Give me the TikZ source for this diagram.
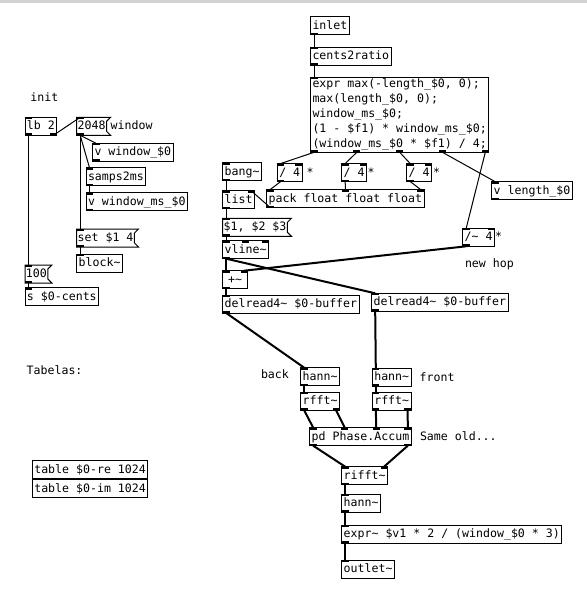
\documentclass[tikz,border=0pt]{standalone}
\usepackage{fontspec}
\usepackage{tikz}
\usetikzlibrary{calc}
\newfontfamily\pdmono{DejaVu Sans Mono}
\newcommand{\tld}{\textasciitilde}

% inlets and outlets of a box: name, number of inlets, number of outlets
\newcommand{\iolets}[3]{%
  \path (#1.north west) ++(3.5pt,0) coordinate (#1-tl)
        (#1.north east) ++(-3.5pt,0) coordinate (#1-tr)
        (#1.south west) ++(3.5pt,0) coordinate (#1-bl)
        (#1.south east) ++(-3.5pt,0) coordinate (#1-br);
  \ifnum#2>0
    \pgfmathtruncatemacro\nlast{max(#2-1,1)}%
    \foreach \k in {1,...,#2}{%
      \pgfmathsetmacro\frc{(\k-1)/\nlast}%
      \coordinate (#1-i\k) at ($(#1-tl)!\frc!(#1-tr)$);
      \fill ($(#1-i\k)+(-3.5pt,0)$) rectangle ++(7pt,-2pt);
    }%
  \fi
  \ifnum#3>0
    \pgfmathtruncatemacro\nlast{max(#3-1,1)}%
    \foreach \k in {1,...,#3}{%
      \pgfmathsetmacro\frc{(\k-1)/\nlast}%
      \coordinate (#1-o\k) at ($(#1-bl)!\frc!(#1-br)$);
      \fill ($(#1-o\k)+(-3.5pt,0)$) rectangle ++(7pt,2pt);
    }%
  \fi}

% flag of a message box
\newcommand{\msgflag}[1]{%
  \draw[line width=1pt] (#1.north west) -- ($(#1.north east)+(4pt,0)$)
    -- ($(#1.north east)+(0,-4pt)$) -- ($(#1.south east)+(0,4pt)$)
    -- ($(#1.south east)+(4pt,0)$) -- (#1.south west) -- cycle;}

\begin{document}
\begin{tikzpicture}[x=1pt, y=-1pt,
  pdtext/.style={anchor=north west, inner xsep=2pt, inner ysep=3.2pt, outer sep=0pt,
    text height=9.3pt, text depth=2.3pt, font=\pdmono\fontsize{11.58pt}{15pt}\selectfont},
  pdobj/.style={pdtext, draw, line width=1pt, fill=white, minimum width=24.9pt},
  pdmsg/.style={pdtext, inner xsep=1pt},
  pdcom/.style={pdtext},
  ctl/.style={line width=1pt},
  sig/.style={line width=2pt}]
  \useasboundingbox (0,0) rectangle (587,590);
  \fill[gray!35] (0,0) rectangle (587,3);

  % init
  \node[pdcom] (cinit) at (28.5,88.5) {init};
  \node[pdobj] (lb2) at (25,117.3) {lb 2};
  \iolets{lb2}{1}{2}
  \node[pdmsg] (m2048) at (76.7,117.3) {2048};
  \msgflag{m2048} \iolets{m2048}{1}{1}
  \node[pdcom] (cwin) at (108.7,117.3) {window};
  \node[pdobj] (vwin) at (92.5,143.3) {v window\_\$0};
  \iolets{vwin}{1}{1}
  \node[pdobj] (s2ms) at (86,167.7) {samps2ms};
  \iolets{s2ms}{1}{1}
  \node[pdobj] (vwinms) at (86,192.5) {v window\_ms\_\$0};
  \iolets{vwinms}{1}{1}
  \node[pdmsg] (mset) at (76.7,229) {set \$1 4};
  \msgflag{mset} \iolets{mset}{1}{1}
  \node[pdobj] (block) at (76.7,254) {block\tld};
  \iolets{block}{1}{0}
  \node[pdmsg] (m100) at (25,265) {100};
  \msgflag{m100} \iolets{m100}{1}{1}
  \node[pdobj] (scents) at (25,287.5) {s \$0-cents};
  \iolets{scents}{1}{0}

  % tables
  \node[pdcom] (ctab) at (24.7,361.7) {Tabelas:};
  \node[pdobj] (tre) at (32.3,460.7) {table \$0-re 1024};
  \node[pdobj] (tim) at (32.3,479.7) {table \$0-im 1024};

  % control part
  \node[pdobj] (inl) at (310.5,16.5) {inlet};
  \iolets{inl}{0}{1}
  \node[pdobj] (c2r) at (310.5,47) {cents2ratio};
  \iolets{c2r}{1}{1}
  \node[pdobj, align=left, text height={}, text depth={}, inner ysep=0pt,
    minimum height=75pt] (expr) at (310.5,77.3)
    {expr max(-length\_\$0, 0);\\max(length\_\$0, 0);\\window\_ms\_\$0;\\(1 - \$f1) * window\_ms\_\$0;\\(window\_ms\_\$0 * \$f1) / 4;};
  \iolets{expr}{1}{5}
  \node[pdobj] (divA) at (277.3,163.5) {/ 4};
  \iolets{divA}{2}{1}
  \node[pdcom] (sA) at (304.5,163.5) {*};
  \node[pdobj] (divB) at (341.7,163.5) {/ 4};
  \iolets{divB}{2}{1}
  \node[pdcom] (sB) at (365.7,163.5) {*};
  \node[pdobj] (divC) at (406.7,163.5) {/ 4};
  \iolets{divC}{2}{1}
  \node[pdcom] (sC) at (431,163.5) {*};
  \node[pdobj] (vlen) at (491.7,181.7) {v length\_\$0};
  \iolets{vlen}{1}{1}
  \node[pdobj] (bang) at (222.7,162.5) {bang\tld};
  \iolets{bang}{1}{1}
  \node[pdobj] (list) at (222.7,190.7) {list};
  \iolets{list}{2}{1}
  \node[pdobj] (pack) at (266.7,189.5) {pack float float float};
  \iolets{pack}{3}{1}
  \node[pdmsg] (mramp) at (222.7,218.3) {\$1, \$2 \$3};
  \msgflag{mramp} \iolets{mramp}{1}{1}
  \node[pdobj] (vline) at (222.7,240.7) {vline\tld};
  \iolets{vline}{3}{1}
  \node[pdobj] (hop) at (462.7,228.3) {/\tld{} 4};
  \iolets{hop}{2}{1}
  \node[pdcom] (sH) at (493,228.3) {*};
  \node[pdcom] (chop) at (463,255.3) {new hop};

  % signal part
  \node[pdobj] (plus) at (222.7,270.7) {+\tld};
  \iolets{plus}{2}{1}
  \node[pdobj] (dlA) at (222.7,295) {delread4\tld{} \$0-buffer};
  \iolets{dlA}{1}{1}
  \node[pdobj] (dlB) at (371.7,293.3) {delread4\tld{} \$0-buffer};
  \iolets{dlB}{1}{1}
  \node[pdcom] (cback) at (259,366) {back};
  \node[pdobj] (hannA) at (300.7,367.7) {hann\tld};
  \iolets{hannA}{1}{1}
  \node[pdobj] (rfftA) at (300.7,392.3) {rfft\tld};
  \iolets{rfftA}{1}{2}
  \node[pdobj] (hannB) at (372.3,368.3) {hann\tld};
  \iolets{hannB}{1}{1}
  \node[pdcom] (cfront) at (417.7,368.7) {front};
  \node[pdobj] (rfftB) at (372.3,392.3) {rfft\tld};
  \iolets{rfftB}{1}{2}
  \node[pdobj] (phase) at (309.7,427.7) {pd Phase.Accum};
  \iolets{phase}{4}{2}
  \node[pdcom] (csame) at (418,427.7) {Same old...};
  \node[pdobj] (rifft) at (341.7,466.7) {rifft\tld};
  \iolets{rifft}{2}{1}
  \node[pdobj] (hannC) at (341.7,494) {hann\tld};
  \iolets{hannC}{1}{1}
  \node[pdobj] (exprs) at (341.7,525) {expr\tld{} \$v1 * 2 / (window\_\$0 * 3)};
  \iolets{exprs}{1}{1}
  \node[pdobj] (outl) at (341.7,560) {outlet\tld};
  \iolets{outl}{1}{0}

  % connections, left column
  \draw[ctl] (lb2-o1) -- (m100-i1);
  \draw[ctl] (lb2-o2) -- (m2048-i1);
  \draw[ctl] (m2048-o1) -- (vwin-i1);
  \draw[ctl] (m2048-o1) -- (s2ms-i1);
  \draw[ctl] (m2048-o1) -- (mset-i1);
  \draw[ctl] (s2ms-o1) -- (vwinms-i1);
  \draw[ctl] (mset-o1) -- (block-i1);
  \draw[ctl] (m100-o1) -- (scents-i1);

  % connections, control
  \draw[ctl] (inl-o1) -- (c2r-i1);
  \draw[ctl] (c2r-o1) -- (expr-i1);
  \draw[ctl] (expr-o1) -- (divA-i1);
  \draw[ctl] (expr-o2) -- (divB-i1);
  \draw[ctl] (expr-o3) -- (divC-i1);
  \draw[ctl] (expr-o4) -- (vlen-i1);
  \draw[ctl] (expr-o5) -- (hop-i1);
  \draw[ctl] (divA-o1) -- (pack-i1);
  \draw[ctl] (divB-o1) -- (pack-i2);
  \draw[ctl] (divC-o1) -- (pack-i3);
  \draw[ctl] (bang-o1) -- (list-i1);
  \draw[ctl] (pack-o1) -- (list-i2);
  \draw[ctl] (list-o1) -- (mramp-i1);
  \draw[ctl] (mramp-o1) -- (vline-i1);

  % connections, signal
  \draw[sig] (vline-o1) -- (plus-i1);
  \draw[sig] (vline-o1) -- (dlB-i1);
  \draw[sig] (hop-o1) -- (plus-i2);
  \draw[sig] (plus-o1) -- (dlA-i1);
  \draw[sig] (dlA-o1) -- (hannA-i1);
  \draw[sig] (dlB-o1) -- (hannB-i1);
  \draw[sig] (hannA-o1) -- (rfftA-i1);
  \draw[sig] (hannB-o1) -- (rfftB-i1);
  \draw[sig] (rfftA-o1) -- (phase-i1);
  \draw[sig] (rfftA-o2) -- (phase-i2);
  \draw[sig] (rfftB-o1) -- (phase-i3);
  \draw[sig] (rfftB-o2) -- (phase-i4);
  \draw[sig] (phase-o1) -- (rifft-i1);
  \draw[sig] (phase-o2) -- (rifft-i2);
  \draw[sig] (rifft-o1) -- (hannC-i1);
  \draw[sig] (hannC-o1) -- (exprs-i1);
  \draw[sig] (exprs-o1) -- (outl-i1);
\end{tikzpicture}
\end{document}
